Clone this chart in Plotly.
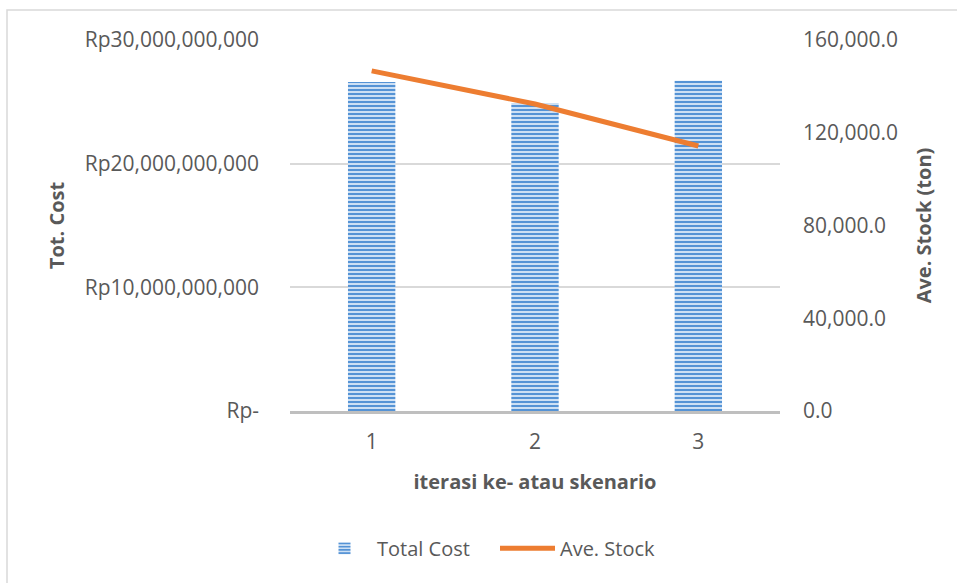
import plotly.graph_objects as go

# Scenario data
scenarios = ["1", "2", "3"]
total_cost = [26.6e9, 24.9e9, 26.7e9]          # Rupiah
ave_stock = [146700, 132400, 114300]            # ton

cost_ticks = [0, 10e9, 20e9, 30e9]
cost_tick_text = ["Rp-", "Rp10,000,000,000", "Rp20,000,000,000", "Rp30,000,000,000"]
stock_ticks = [0, 40000, 80000, 120000, 160000]

FONT = "Open Sans"
GREY = "#595959"

fig = go.Figure()

fig.add_trace(go.Bar(
    x=scenarios, y=total_cost, name="Total Cost",
    marker=dict(
        color="#b4d0ee",
        line=dict(width=0),
        pattern=dict(shape="-", size=4, solidity=0.5,
                     fgcolor="#5593d5", bgcolor="#cde0f4", fillmode="replace"),
    ),
    yaxis="y",
))

fig.add_trace(go.Scatter(
    x=scenarios, y=ave_stock, name="Ave. Stock",
    mode="lines", line=dict(color="#ed7d31", width=5),
    yaxis="y2",
))

fig.update_layout(
    width=957, height=583,
    margin=dict(l=290, r=177, t=40, b=172),
    paper_bgcolor="white", plot_bgcolor="white",
    font=dict(family=FONT, size=21, color=GREY),
    bargap=0.71,
    showlegend=True,
    legend=dict(orientation="h", x=(312 - 290) / 490, xanchor="left",
                y=-0.37, yanchor="middle",
                font=dict(size=20, color=GREY), itemwidth=55,
                entrywidth=113, entrywidthmode="pixels"),
    xaxis=dict(
        type="category", range=[-0.5, 2.5],
        showline=True, linecolor="#bfbfbf", linewidth=3,
        ticks="", ticklabelstandoff=10,
        title=dict(text="<b>iterasi ke- atau skenario</b>", standoff=21,
                   font=dict(size=20, color=GREY)),
    ),
    yaxis=dict(
        range=[0, 30e9], tickvals=cost_ticks, ticktext=cost_tick_text,
        showgrid=True, gridcolor="#d9d9d9", gridwidth=1.5,
        zeroline=False, ticks="", ticklabelstandoff=30,
        title=dict(text="<b>Tot. Cost</b>", standoff=14,
                   font=dict(size=20, color=GREY)),
    ),
    yaxis2=dict(
        overlaying="y", side="right",
        range=[0, 160000], tickvals=stock_ticks, tickformat=",.1f",
        showgrid=False, zeroline=False, ticks="", ticklabelstandoff=22,
        title=dict(text="<b>Ave. Stock (ton)</b>", standoff=19,
                   font=dict(size=20, color=GREY)),
    ),
    shapes=[dict(
        type="rect", xref="paper", yref="paper",
        x0=(7 - 290) / 490, x1=(965 - 290) / 490,
        y0=(411 - 595) / 371, y1=(411 - 10) / 371,
        line=dict(color="#d9d9d9", width=1.5), fillcolor="rgba(0,0,0,0)",
        layer="below",
    )],
)

fig.write_html("out.html")
